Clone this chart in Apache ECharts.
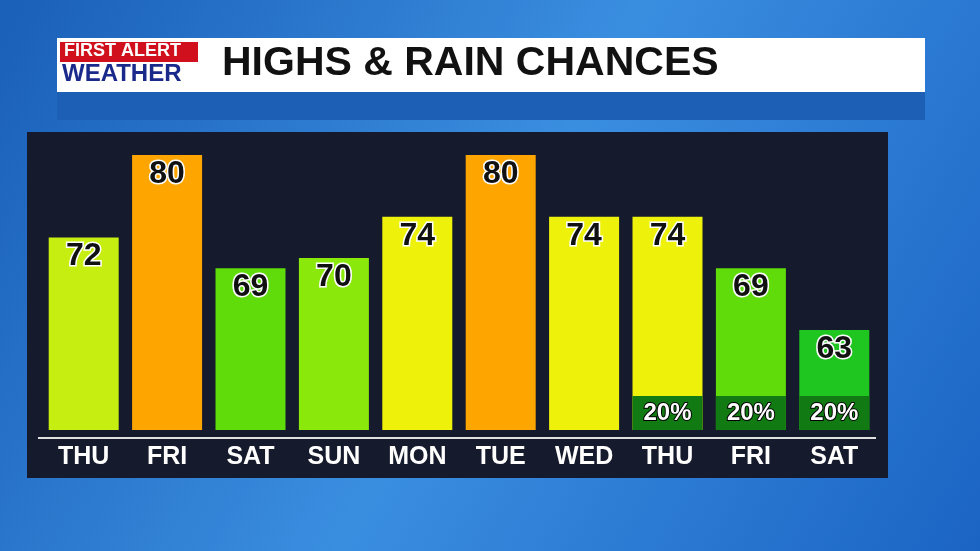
<!DOCTYPE html><html><head><meta charset="utf-8">
<script src="https://cdn.jsdelivr.net/npm/echarts@6/dist/echarts.min.js"></script>
<style>html,body{margin:0;padding:0;}#c{width:980px;height:551px;}</style></head><body><div id="c"></div>
<script>
const days=['THU','FRI','SAT','SUN','MON','TUE','WED','THU','FRI','SAT'];
const highs=[72,80,69,70,74,80,74,74,69,63];
const rain=[null,null,null,null,null,null,null,'20%','20%','20%'];
const colors=['#c6ee10','#ffa500','#5fdc0a','#8ae80a','#eef20a','#ffa500','#eef20a','#eef20a','#5fdc0a','#1fc61f'];
const yMin=53.3, yMax=80, rainBand=3.3;
const chart=echarts.init(document.getElementById('c'));
chart.setOption({
 backgroundColor:{type:'linear',x:0,y:0,x2:1,y2:1,colorStops:[{offset:0,color:'#1a5fb8'},{offset:0.5,color:'#3a8ee0'},{offset:1,color:'#1b64c4'}]},
 graphic:[
  {type:'rect',shape:{x:27,y:132,width:861,height:346},style:{fill:'#151a2c'},z:-10},
  {type:'rect',shape:{x:57,y:38,width:868,height:54},style:{fill:'#ffffff'}},
  {type:'rect',shape:{x:57,y:92,width:868,height:28},style:{fill:'#1d5fb4'}},
  {type:'rect',shape:{x:60,y:42,width:138,height:20},style:{fill:'#d0101c'}},
  {type:'text',left:64,top:42,style:{text:'FIRST ALERT',fill:'#fff',font:'bold 18px Liberation Sans'}},
  {type:'text',left:62,top:62,style:{text:'WEATHER',fill:'#1a2a8a',font:'bold 24px Liberation Sans'}},
  {type:'text',left:222,top:43,style:{text:'HIGHS & RAIN CHANCES',fill:'#111',font:'bold 41px Liberation Sans'}},
  {type:'rect',shape:{x:38,y:437,width:838,height:2},style:{fill:'#e0e0e0'}}
 ],
 grid:{left:42,right:104,top:155,bottom:121},
 xAxis:{type:'category',data:days,axisLine:{show:false},axisTick:{show:false},
  axisLabel:{color:'#fff',fontSize:25,fontWeight:'bold',fontFamily:'Liberation Sans',margin:15}},
 yAxis:{type:'value',min:yMin,max:yMax,show:false,splitLine:{show:false}},
 series:[
  {type:'bar',barWidth:70,data:highs.map((v,i)=>({value:v,itemStyle:{color:colors[i]}})),
   label:{show:true,position:'insideTop',distance:3,color:'#111',fontSize:32,fontWeight:'bold',fontFamily:'Liberation Sans',textBorderColor:'#fff',textBorderWidth:3}},
  {type:'bar',barWidth:70,barGap:'-100%',z:3,data:rain.map(r=>r?{value:yMin+rainBand,name:r,itemStyle:{color:'#127a12'}}:{value:null}),
   label:{show:true,position:'inside',formatter:p=>rain[p.dataIndex]||'',color:'#fff',fontSize:24,fontWeight:'bold',fontFamily:'Liberation Sans',textBorderColor:'#000',textBorderWidth:2}}
 ]
});
</script></body></html>
